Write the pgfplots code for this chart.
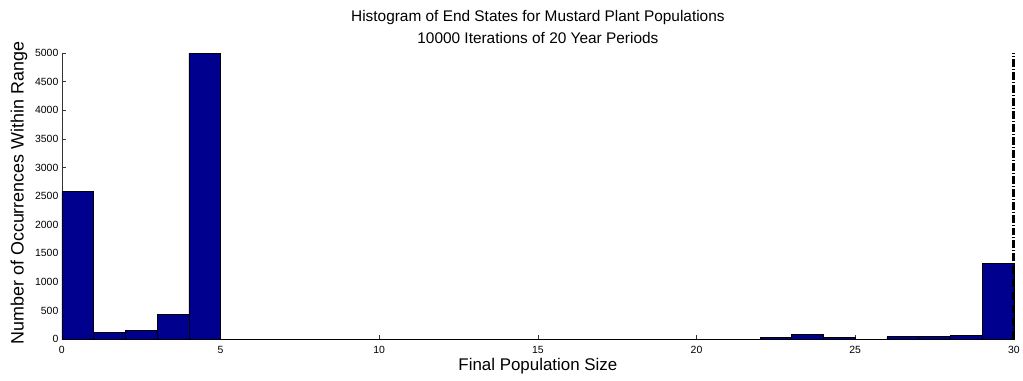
\documentclass[border=0pt]{standalone}
\usepackage{pgfplots}
\pgfplotsset{compat=1.18}
\usepackage{fontspec}
\setmainfont{Liberation Sans}
\definecolor{barblue}{RGB}{0,0,143}
\begin{document}
\begin{tikzpicture}
\begin{axis}[
  scale only axis,
  width=954bp, height=287bp,
  xmin=0, xmax=30, ymin=0, ymax=5000,
  axis x line*=bottom, axis y line*=left,
  axis line style={-, black!80},
  xtick={0,5,...,30},
  ytick={0,500,...,5000},
  tick align=inside,
  major tick length=4bp,
  tick style={black!80},
  scaled y ticks=false,
  /pgf/number format/assume math mode=true,
  /pgf/number format/set thousands separator={},
  ticklabel style={font=\fontsize{10.5}{12}\selectfont},
  xticklabel style={anchor=base, yshift=-14bp},
  xlabel={Final Population Size},
  ylabel={Number of Occurrences Within Range},
  xlabel style={font=\fontsize{17}{19}\selectfont, at={(rel axis cs:0.5,0)}, anchor=base, yshift=-31bp},
  ylabel style={font=\fontsize{18}{20}\selectfont, at={(rel axis cs:0,0.5)}, anchor=center, yshift=43bp, xshift=3bp},
  title={Histogram of End States for Mustard Plant Populations\\10000 Iterations of 20 Year Periods},
  title style={font=\fontsize{15.5}{22}\selectfont, align=center, at={(rel axis cs:0.5,1)}, anchor=south, inner sep=0pt, yshift=3bp},
  clip=false,
]
\addplot[ybar interval, fill=barblue, draw=black, line width=0.6bp] coordinates {
(0,2583) (1,127) (2,162) (3,435) (4,4995) (5,0) (6,0) (7,0) (8,0) (9,0)
(10,0) (11,0) (12,0) (13,0) (14,0) (15,0) (16,0) (17,0) (18,0) (19,0)
(20,0) (21,0) (22,30) (23,80) (24,30) (25,0) (26,45) (27,45) (28,65) (29,1324) (30,0)
};
\addplot[black, line width=3bp, dash pattern=on 8bp off 2bp on 1bp off 2bp] coordinates {(30,0) (30,5000)};
\end{axis}
\path ([xshift=-62bp,yshift=-41bp]current axis.south west) rectangle ([xshift=7bp,yshift=53bp]current axis.north east);
\end{tikzpicture}
\end{document}
